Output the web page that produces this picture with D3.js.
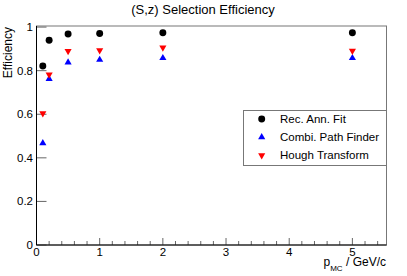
<!DOCTYPE html>
<html lang="en">
    <head>
        <title>selection efficiency</title>
        <script src="https://cdn.jsdelivr.net/npm/d3@7"></script>
        <style>
            body { margin: 0; background: #fff; }
            text { font-family: "Liberation Sans", Arial, sans-serif; fill: #000; }
        </style>
    </head>

    <body>
        <div id="graph"></div>
    </body>
    <script>
        // momentum bins (GeV/c)
        var momenta = [0.1, 0.2, 0.5, 1, 2, 5];
        var recAnnFit = [0.821, 0.940, 0.968, 0.971, 0.974, 0.974];
        var combiPath = [0.467, 0.762, 0.838, 0.850, 0.858, 0.858];
        var hough = [0.604, 0.782, 0.890, 0.893, 0.906, 0.891];
        var seriesNames = ["Rec. Ann. Fit", "Combi. Path Finder", "Hough Transform"];
        var xTicks = [0, 1, 2, 3, 4, 5];
        var yTicks = [0, 0.2, 0.4, 0.6, 0.8, 1];

        var W = 407, H = 276;
        var svg = d3.select("#graph").append("svg").attr("width", W).attr("height", H);

        var x = d3.scaleLinear().domain([0, 5.54]).range([36.5, 386.5]);
        var y = d3.scaleLinear().domain([0, 1.005]).range([245, 26]);

        // frame
        svg.append("rect")
            .attr("x", x(0)).attr("y", y(1.005))
            .attr("width", x(5.54) - x(0)).attr("height", y(0) - y(1.005))
            .attr("fill", "none").attr("stroke", "#777").attr("stroke-width", 1);

        // x axis minor + major ticks
        var minor = d3.range(0, 5.5, 0.2);
        svg.append("g").selectAll("line").data(minor).enter().append("line")
            .attr("x1", d => x(d)).attr("x2", d => x(d))
            .attr("y1", y(0)).attr("y2", d => Math.abs(d - Math.round(d)) < 1e-6 ? y(0) - 7 : y(0) - 4)
            .attr("stroke", "#666").attr("stroke-width", 1);
        svg.append("g").selectAll("text").data(xTicks).enter().append("text")
            .attr("x", d => x(d)).attr("y", 256)
            .attr("text-anchor", "middle").style("font-size", "11.5px")
            .text(d => d);

        // y axis ticks
        svg.append("g").selectAll("line").data(yTicks).enter().append("line")
            .attr("x1", x(0)).attr("x2", x(0) + 10)
            .attr("y1", d => y(d)).attr("y2", d => y(d))
            .attr("stroke", "#666").attr("stroke-width", 1);
        svg.append("g").selectAll("text").data(yTicks).enter().append("text")
            .attr("x", 33).attr("y", d => y(d) + 4)
            .attr("text-anchor", "end").style("font-size", "11.5px")
            .text(d => d);

        // axis lines
        svg.append("line").attr("x1", x(0)).attr("x2", x(0)).attr("y1", y(0)).attr("y2", y(1.005))
            .attr("stroke", "#000");
        svg.append("line").attr("x1", x(0)).attr("x2", x(5.54)).attr("y1", y(0)).attr("y2", y(0))
            .attr("stroke", "#000");

        // title and axis titles
        svg.append("text").attr("x", 203).attr("y", 14)
            .attr("text-anchor", "middle").style("font-size", "13px")
            .text("(S,z) Selection Efficiency");
        svg.append("text").attr("transform", "translate(12,27) rotate(-90)")
            .attr("text-anchor", "end").style("font-size", "12px")
            .text("Efficiency");
        var xt = svg.append("text").attr("x", 386).attr("y", 266)
            .attr("text-anchor", "end").style("font-size", "12px");
        xt.append("tspan").text("p");
        xt.append("tspan").attr("dy", 5).style("font-size", "8px").text("MC");
        xt.append("tspan").attr("dy", -5).text(" / GeV/c");

        // markers
        var circ = d3.symbol().type(d3.symbolCircle).size(38);
        var tri = d3.symbol().type(d3.symbolTriangle).size(22);

        function drawSeries(vals, sym, color, rot) {
            svg.append("g").selectAll("path").data(vals).enter().append("path")
                .attr("d", sym)
                .attr("transform", (d, i) => "translate(" + x(momenta[i]) + "," + y(d) + ") rotate(" + rot + ")")
                .attr("fill", color);
        }
        drawSeries(recAnnFit, circ, "#000", 0);
        drawSeries(combiPath, tri, "#0000ff", 0);
        drawSeries(hough, tri, "#ff0000", 180);

        // legend
        var lg = svg.append("g");
        lg.append("rect").attr("x", 243.5).attr("y", 110.5).attr("width", 143).attr("height", 55)
            .attr("fill", "#fff").attr("stroke", "#777");
        var legendSyms = [[circ, "#000", 0], [tri, "#0000ff", 0], [tri, "#ff0000", 180]];
        seriesNames.forEach(function(name, i) {
            var ly = 119 + i * 18.2;
            lg.append("path").attr("d", legendSyms[i][0])
                .attr("transform", "translate(261.7," + ly + ") rotate(" + legendSyms[i][2] + ")")
                .attr("fill", legendSyms[i][1]);
            lg.append("text").attr("x", 280).attr("y", ly + 4)
                .style("font-size", "11.5px").text(name);
        });
    </script>
</html>
